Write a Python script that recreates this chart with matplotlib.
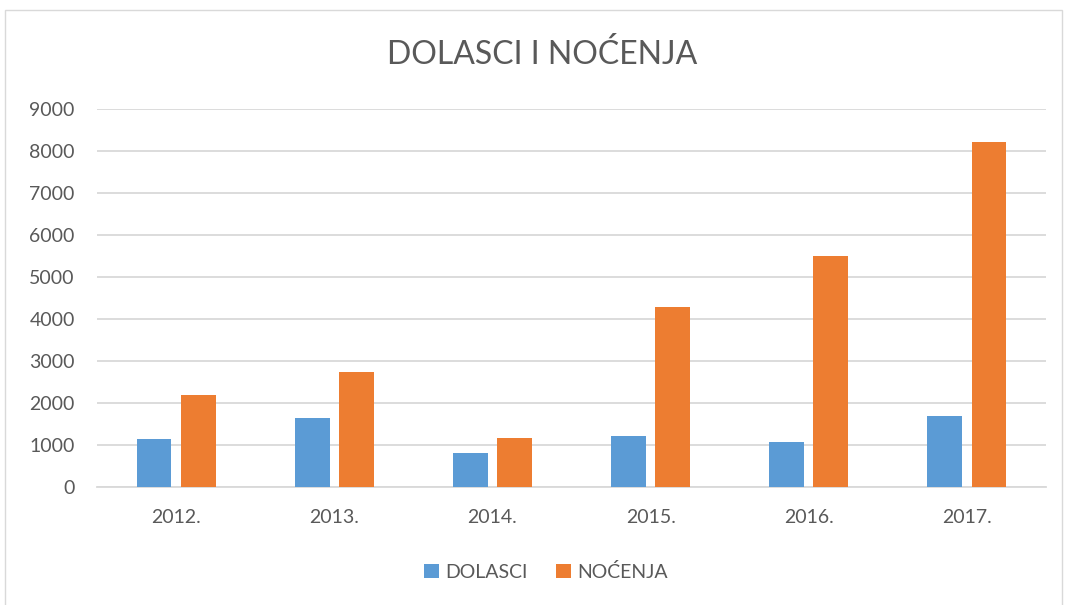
import matplotlib.pyplot as plt
from matplotlib.patches import Rectangle
import numpy as np

years = ['2012.', '2013.', '2014.', '2015.', '2016.', '2017.']
dolasci = [1140, 1635, 810, 1215, 1070, 1690]
nocenja = [2180, 2730, 1165, 4280, 5510, 8220]

blue = '#5B9BD5'
orange = '#ED7D31'
grid_col = '#D9D9D9'
text_col = '#595959'

plt.rcParams['font.family'] = ['Lato', 'DejaVu Sans']

W, H = 1066, 605
fig = plt.figure(figsize=(W / 100, H / 100), dpi=100)

# chart area border
fig.patches.append(Rectangle((5 / W, -0.01), 1057 / W, 1 - 10 / H + 0.01,
                             transform=fig.transFigure, fill=False,
                             edgecolor='#D9D9D9', linewidth=1))

ax = fig.add_axes([97 / W, 1 - 487 / H, (1046 - 97) / W, (487 - 109) / H])

x = np.arange(len(years))
bw = 0.22
off = 0.14
ax.bar(x - off, dolasci, bw, color=blue, label='DOLASCI', zorder=3)
ax.bar(x + off, nocenja, bw, color=orange, label='NOĆENJA', zorder=3)

ax.set_xlim(-0.5, len(years) - 0.5)
ax.set_ylim(0, 9000)
ax.set_yticks(range(0, 9001, 1000))
ax.yaxis.grid(True, color=grid_col, linewidth=1.3, zorder=0)
ax.set_xticks(x)
ax.set_xticklabels(years)
ax.tick_params(axis='both', length=0, labelsize=14, colors=text_col)
ax.tick_params(axis='x', pad=16)
ax.tick_params(axis='y', pad=16)
for s in ['top', 'right', 'left']:
    ax.spines[s].set_visible(False)
ax.spines['bottom'].set_color(grid_col)
ax.spines['bottom'].set_linewidth(1.3)

fig.text(542 / W, 1 - 54 / H, 'DOLASCI I NOĆENJA', ha='center', va='center',
         fontsize=23, color=text_col)

fig.legend(loc='center', bbox_to_anchor=(546 / W, 1 - 572 / H), ncol=2,
           frameon=False, fontsize=14, labelcolor=text_col,
           handlelength=0.75, handleheight=0.75, handletextpad=0.3,
           columnspacing=1.5)

fig.savefig('out.png', dpi=100, facecolor='white')
